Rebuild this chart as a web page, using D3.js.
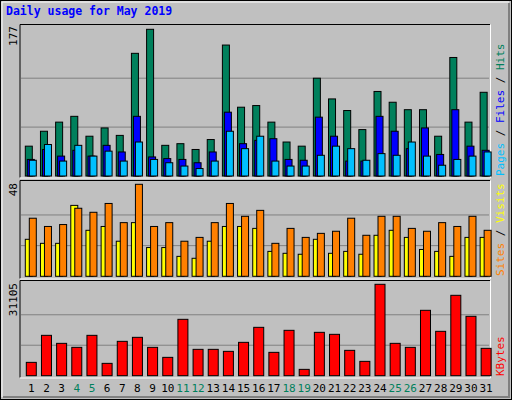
<!DOCTYPE html><html><head><meta charset="utf-8">
<script src="https://cdn.jsdelivr.net/npm/d3@7"></script>
<style>body{margin:0;background:#fff}</style></head><body>
<svg id="c" width="512" height="400"></svg>
<script>
const days=d3.range(1,32);
const weekends=[4,5,11,12,18,19,25,26];
const hits=[36,54,65,72,48,58,49,148,177,37,39,32,44,158,83,85,65,41,36,118,93,79,56,102,89,80,80,48,143,65,101];
const files=[20,32,24,31,24,37,29,72,23,21,20,16,29,77,39,43,45,20,19,71,48,18,18,72,54,33,58,26,80,36,31];
const pages=[19,38,18,37,24,30,18,41,20,16,12,9,18,54,33,48,18,12,12,25,36,33,19,27,25,41,24,13,20,24,29];
const visits=[19.3,17.2,17.2,37,24,26,18.3,28,15,15,10.4,9.4,18.3,26,26,25,13,12,11.5,19.3,12,13,11.5,21.4,24,20.3,14,13,10.4,20.3,20.3];
const sites=[30.3,26,27,35.5,33.4,38,28,48,26,28,18.3,20.3,28,38,31.3,34.4,17.2,25,20.3,22.4,23.5,30.3,21.4,31.3,31.3,25,23.5,28,26,31.3,24];
const kbytes=[4541,13736,11011,9649,13736,4200,11693,13055,9649,6244,19185,8968,8968,8287,11352,16461,7946,15439,2157,14758,14077,8628,4881,31105,11011,9649,22250,15098,27358,20207,9309];
const maxLabels=["177","48","31105"];

const svg=d3.select("#c");
svg.append("rect").attr("x",0.5).attr("y",0.5).attr("width",511).attr("height",399).attr("fill","#c0c0c0").attr("stroke","#000");
svg.append("path").attr("d","M2,397V2H509").attr("fill","none").attr("stroke","#fff");
svg.append("path").attr("d","M3,397H509V3").attr("fill","none").attr("stroke","#808080").attr("stroke-width",2);
svg.append("text").attr("x",6).attr("y",15).text("Daily usage for May 2019")
 .attr("font-family","DejaVu Sans Mono").attr("font-weight","bold").attr("font-size",11.5).attr("fill","#0000ff");

const x=d3.scaleBand().domain(days).range([20,490]);
const X0=20,X1=490;
function panel(y0,y1){
  svg.append("path").attr("d",`M${X0},${y1}V${y0}H${X1}`).attr("fill","none").attr("stroke","#000");
  svg.append("path").attr("d",`M${X0},${y1+0.5}H${X1+0.5}V${y0}`).attr("fill","none").attr("stroke","#fff");
}
function grid(y){ [1/3,2/3].forEach(f=>{const v=y.domain()[1]*f;svg.append("line").attr("x1",X0+1).attr("x2",X1-1).attr("y1",y(v)).attr("y2",y(v)).attr("stroke","#808080");}); }
function bars(data,y,off,w,col){
  svg.append("g").selectAll("rect").data(data).join("rect")
   .attr("x",(d,i)=>x(days[i])+off).attr("width",w)
   .attr("y",d=>y(d)).attr("height",d=>y(0)-y(d))
   .attr("fill",col).attr("stroke","#000").attr("stroke-width",1);
}
function vlabel(txt,yc){
  svg.append("text").attr("transform",`translate(17,${yc}) rotate(-90)`).text(txt)
   .attr("font-family","DejaVu Sans Mono").attr("font-size",11).attr("text-anchor","end").attr("fill","#000");
}
// top
const y1=d3.scaleLinear().domain([0,177]).range([176,29.3]);
panel(24.5,177.5); grid(y1);
bars(hits,y1,5.3,7,"#00805c"); bars(files,y1,7.3,7,"#0000ff"); bars(pages,y1,9.3,7,"#00c0ff");
vlabel(maxLabels[0],26);
// middle
const y2=d3.scaleLinear().domain([0,48]).range([276.3,184.3]);
panel(180.5,278.5); grid(y2);
bars(visits,y2,5.3,7,"#ffff00"); bars(sites,y2,9.3,7,"#ff8000");
vlabel(maxLabels[1],183);
// bottom
const y3=d3.scaleLinear().domain([0,31105]).range([375.7,284.3]);
panel(280.5,377.5); grid(y3);
bars(kbytes,y3,6.3,10,"#ff0000");
vlabel(maxLabels[2],283);
// day labels
svg.append("g").selectAll("text").data(days).join("text")
 .attr("x",d=>x(d)+11.3).attr("y",392).attr("text-anchor","middle").text(d=>d)
 .attr("font-family","DejaVu Sans Mono").attr("font-size",11)
 .attr("fill",d=>weekends.includes(d)?"#00805c":"#000");
// right legends
function rlegend(parts,yEnd){
  const t=svg.append("text").attr("transform",`translate(504,${yEnd}) rotate(-90)`)
   .attr("font-family","DejaVu Sans Mono").attr("font-size",11);
  parts.forEach(p=>t.append("tspan").text(p[0]).attr("fill",p[1]));
}
rlegend([["Pages","#00c0ff"],[" / ","#000"],["Files","#0000ff"],[" / ","#000"],["Hits","#00805c"]],176);
rlegend([["Sites","#ff8000"],[" / ","#000"],["Visits","#ffff00"]],276);
rlegend([["KBytes","#ff0000"]],376);
</script></body></html>
